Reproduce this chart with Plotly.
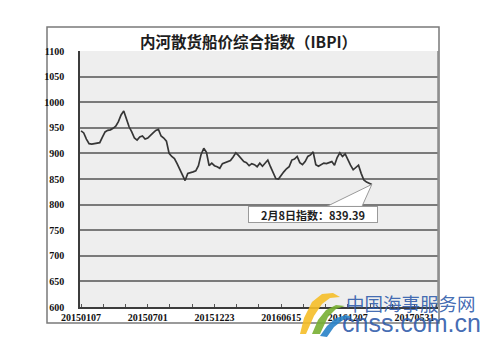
import plotly.graph_objects as go

# ---- data ----
tick_labels = ["20150107", "20150701", "20151223", "20160615", "20161207", "20170531"]
tick_weeks = [0, 25, 50, 75, 100, 125]
y_ticks = [600, 650, 700, 750, 800, 850, 900, 950, 1000, 1050, 1100]

ibpi = [944, 940, 928, 919, 918, 919, 920, 921, 932, 942,
        945, 946, 949, 953, 962, 975, 983, 965, 952, 942,
        930, 926, 932, 934, 928, 930, 936, 940, 945, 947,
        934, 930, 924, 900, 894, 890, 880, 868, 856, 847,
        861, 862, 864, 866, 876, 898, 910, 902, 876, 881,
        876, 874, 871, 880, 882, 884, 886, 893, 901, 896,
        890, 884, 882, 876, 880, 878, 874, 881, 875, 880,
        887, 874, 862, 851, 850, 858, 864, 870, 874, 887,
        889, 894, 882, 878, 884, 894, 897, 903, 878, 875,
        878, 881, 880, 882, 884, 877, 892, 901, 894, 899,
        887, 877, 868, 872, 877, 861, 848, 844, 842, 839.39]
weeks = list(range(len(ibpi)))
title_text = "内河散货船价综合指数（IBPI）"
callout_text = "2月8日指数：839.39"

W, H = 489, 341
ML, MR, MT, MB = 80, 51, 51, 34
PW, PH = W - ML - MR, H - MT - MB


def px(x):
    return (x - ML) / PW


def py(y):
    return (H - MB - y) / PH


fig = go.Figure()
fig.add_trace(go.Scatter(x=weeks, y=ibpi, mode="lines",
                         line=dict(color="#363636", width=1.7),
                         hoverinfo="skip", showlegend=False))

shapes = []
# outer chart border
shapes.append(dict(type="rect", xref="paper", yref="paper",
                   x0=px(47), x1=px(439), y0=py(323), y1=py(27),
                   line=dict(color="#7a7a7a", width=1.5), layer="below"))
# right border of plot area
shapes.append(dict(type="line", xref="paper", yref="paper",
                   x0=1, x1=1, y0=0, y1=1, line=dict(color="#8a8a8a", width=1.5)))

# callout wedge from the last data point
last_x, last_y = weeks[-1], ibpi[-1]
wx0, wx1 = last_x - 16.9, last_x - 3.7
wy = last_y - 43
shapes.append(dict(type="path", xref="x", yref="y",
                   path=f"M {wx0} {wy} L {last_x} {last_y} L {wx1} {wy} Z",
                   fillcolor="white", line=dict(color="#9a9a9a", width=1)))


# watermark logo swooshes (decorative)
def pth(points):
    s = "M " + " L ".join(f"{px(a):.4f} {py(b):.4f}" for a, b in points) + " Z"
    return s


shapes.append(dict(type="path", xref="paper", yref="paper", layer="above",
                   path=pth([(300, 334), (304, 318), (312, 302), (322, 294), (333, 293),
                             (340, 297), (330, 298), (322, 304), (314, 316), (306, 334)]),
                   fillcolor="rgba(245,190,40,0.9)", line=dict(width=0)))
shapes.append(dict(type="path", xref="paper", yref="paper", layer="above",
                   path=pth([(312, 334), (318, 320), (326, 310), (336, 305), (345, 306),
                             (336, 309), (328, 317), (320, 334)]),
                   fillcolor="rgba(120,175,50,0.9)", line=dict(width=0)))
shapes.append(dict(type="path", xref="paper", yref="paper", layer="above",
                   path=pth([(320, 336), (327, 326), (336, 318), (346, 315), (352, 317),
                             (343, 320), (334, 327), (327, 337)]),
                   fillcolor="rgba(40,130,200,0.9)", line=dict(width=0)))

annotations = [
    dict(text=title_text, xref="paper", yref="paper", x=px(248), y=py(41),
         showarrow=False, xanchor="center", yanchor="middle",
         font=dict(family="Noto Sans CJK SC", size=15.5, color="#1e1e1e", weight="bold")),
    dict(text=callout_text, xref="paper", yref="paper", x=px(313), y=py(214),
         showarrow=False, xanchor="center", yanchor="middle",
         width=126, height=13, bgcolor="white", bordercolor="#9a9a9a", borderwidth=1,
         borderpad=1,
         font=dict(family="Noto Sans CJK SC", size=11, color="#1e1e1e", weight="bold")),
    dict(text="中国海事服务网", xref="paper", yref="paper", x=px(411), y=py(303),
         showarrow=False, xanchor="center", yanchor="middle",
         font=dict(family="Noto Sans CJK SC", size=18.5, color="rgba(45,90,170,0.9)")),
    dict(text="cnss.com.cn", xref="paper", yref="paper", x=px(411), y=py(323),
         showarrow=False, xanchor="center", yanchor="middle",
         font=dict(family="Liberation Sans", size=25, color="rgba(45,90,170,0.9)")),
]

fig.update_layout(
    width=W, height=H,
    margin=dict(l=ML, r=MR, t=MT, b=MB, pad=0),
    paper_bgcolor="white", plot_bgcolor="#eeeeee",
    shapes=shapes, annotations=annotations,
    showlegend=False,
    xaxis=dict(range=[-0.4, 133.8], tickvals=tick_weeks, ticktext=tick_labels,
               showgrid=False, zeroline=False,
               showline=True, linecolor="#3c3c3c", linewidth=1.5,
               ticks="inside", ticklen=3, tickcolor="#555",
               minor=dict(dtick=25 / 3, tick0=0, ticks="inside", ticklen=3, tickcolor="#555",
                          showgrid=False),
               tickfont=dict(family="Liberation Serif", size=10, color="#111", weight="bold"),
               fixedrange=True),
    yaxis=dict(range=[600, 1100], tickvals=y_ticks,
               showgrid=True, gridcolor="#7a7a7a", gridwidth=1.5, zeroline=False,
               showline=True, linecolor="#3c3c3c", linewidth=1.5,
               ticks="", ticklabelstandoff=12,
               tickfont=dict(family="Liberation Serif", size=10, color="#111", weight="bold"),
               fixedrange=True),
)

fig.write_html("out.html")
